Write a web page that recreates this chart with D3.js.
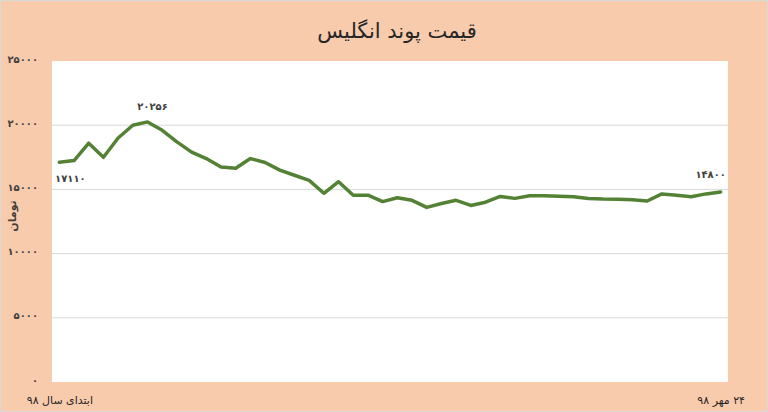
<!DOCTYPE html>
<html>
<head>
<meta charset="utf-8">
<script src="https://cdn.jsdelivr.net/npm/d3@7"></script>
<style>
  html, body { margin: 0; padding: 0; background: #fff; }
  svg { display: block; }
  text { font-family: "DejaVu Sans", "Noto Sans", sans-serif; }
</style>
</head>
<body>
<svg id="chart" width="768" height="412"></svg>
<script>
// ---- data ----
const title = "قیمت پوند انگلیس";
const yAxisTitle = "تومان";
const prices = [17110, 17250, 18600, 17500, 19000, 20000, 20256, 19600, 18700, 17900,
                17400, 16750, 16650, 17400, 17100, 16500, 16100, 15700, 14700, 15600,
                14550, 14550, 14050, 14350, 14150, 13600, 13900, 14150, 13750, 14000,
                14450, 14300, 14500, 14500, 14460, 14420, 14300, 14250, 14230, 14190,
                14100, 14650, 14550, 14430, 14650, 14800];
const xTickLabels = { 0: "ابتدای سال ۹۸", 45: "۲۴ مهر ۹۸" };
const yTicks = [0, 5000, 10000, 15000, 20000, 25000];
const labelled = [0, 6, 45];

// ---- helpers ----
const fa = s => String(s).replace(/[0-9]/g, d => "۰۱۲۳۴۵۶۷۸۹"[+d]);

const W = 768, H = 412;
const plot = { left: 52, right: 728, top: 61, bottom: 382 };
const svg = d3.select("#chart");

// background
svg.append("rect").attr("x", 0.5).attr("y", 0.5).attr("width", W - 1).attr("height", H - 1)
  .attr("fill", "#F8CBAD").attr("stroke", "#d9d9d9");
svg.append("rect").attr("x", plot.left).attr("y", plot.top)
  .attr("width", plot.right - plot.left).attr("height", plot.bottom - plot.top)
  .attr("fill", "#ffffff");

const idx = prices.map((d, i) => i);
const x = d3.scalePoint().domain(idx).range([plot.left, plot.right]).padding(0.5);
const y = d3.scaleLinear().domain([0, 25000]).range([plot.bottom, plot.top]);

// gridlines
svg.append("g").selectAll("line").data(yTicks.filter(t => t > 0 && t < 25000)).join("line")
  .attr("x1", plot.left).attr("x2", plot.right)
  .attr("y1", d => y(d)).attr("y2", d => y(d))
  .attr("stroke", "#d9d9d9").attr("stroke-width", 1);

// y axis
const yAxis = d3.axisLeft(y).tickValues(yTicks).tickSize(0).tickPadding(14).tickFormat(d => fa(d));
const gy = svg.append("g").attr("transform", `translate(${plot.left},0)`).call(yAxis);
gy.select(".domain").remove();
gy.selectAll("text").attr("font-size", 10).attr("font-weight", "bold").attr("fill", "#404040")
  .attr("dy", "0.1em");

// x axis
const xAxis = d3.axisBottom(x).tickValues(Object.keys(xTickLabels).map(Number))
  .tickSize(0).tickPadding(14).tickFormat(d => xTickLabels[d]);
const gx = svg.append("g").attr("transform", `translate(0,${plot.bottom})`).call(xAxis);
gx.select(".domain").remove();
gx.selectAll("text").attr("font-size", 11).attr("fill", "#262626")
  .attr("direction", "rtl").style("unicode-bidi", "embed");

// line
const line = d3.line().x((d, i) => x(i)).y(d => y(d));
svg.append("path").datum(prices).attr("d", line)
  .attr("fill", "none").attr("stroke", "#548235").attr("stroke-width", 3.5)
  .attr("stroke-linejoin", "round").attr("stroke-linecap", "round");

// data labels
const labelOffsets = { 0: [11, 17], 6: [5, -15], 45: [-10, -17] };
svg.append("g").selectAll("text").data(labelled).join("text")
  .attr("x", i => x(i) + labelOffsets[i][0])
  .attr("y", i => y(prices[i]) + labelOffsets[i][1])
  .attr("text-anchor", "middle").attr("dominant-baseline", "middle")
  .attr("font-size", 10).attr("font-weight", "bold").attr("fill", "#404040")
  .text(i => fa(prices[i]));

// title
svg.append("text").attr("x", 397).attr("y", 32)
  .attr("text-anchor", "middle").attr("dominant-baseline", "middle")
  .attr("font-size", 21).attr("fill", "#262626").text(title);

// y axis title
svg.append("text").attr("transform", "translate(13,216) rotate(-90)")
  .attr("text-anchor", "middle").attr("dominant-baseline", "middle")
  .attr("font-size", 11).attr("font-weight", "bold").attr("fill", "#404040").text(yAxisTitle);
</script>
</body>
</html>
